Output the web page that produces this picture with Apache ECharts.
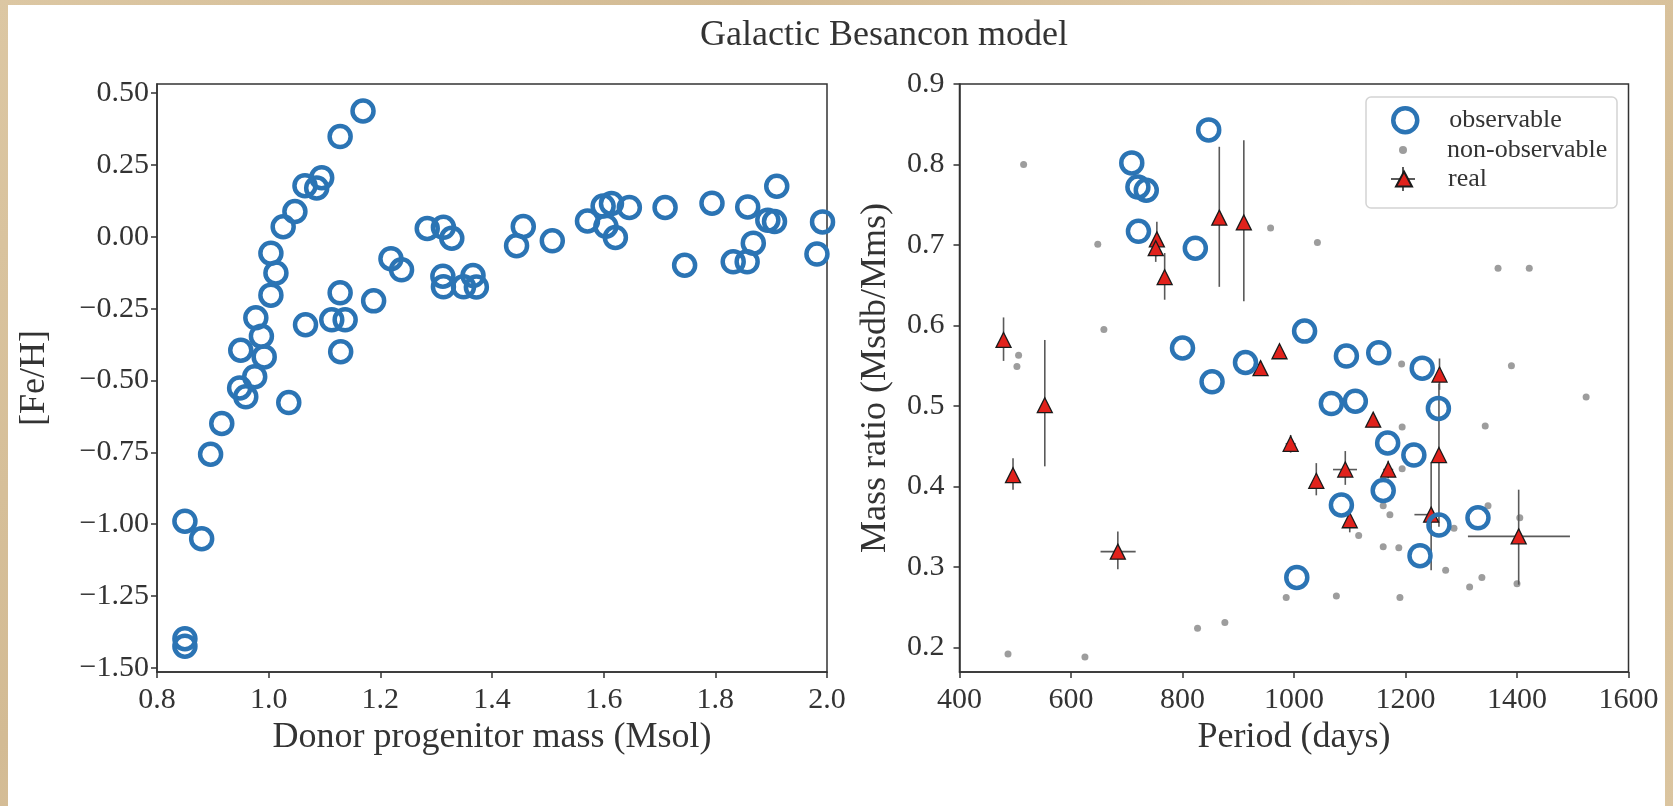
<!DOCTYPE html>
<html>
<head>
<meta charset="utf-8">
<script src="https://cdn.jsdelivr.net/npm/echarts@6/dist/echarts.min.js"></script>
<style>
  html, body { margin: 0; padding: 0; width: 1673px; height: 806px; overflow: hidden;
    background: linear-gradient(135deg, #dcc7a3 0%, #d3bb94 30%, #dfcaa8 55%, #d2b98f 80%, #dbc5a0 100%); }
  #panel { position: absolute; left: 8px; top: 5px; width: 1657px; height: 801px; background: #ffffff; }
  #chart { position: absolute; left: 0; top: 0; width: 1673px; height: 806px; }
</style>
</head>
<body>
<div id="panel"></div>
<div id="chart"></div>
<script>
// ---------------- data ----------------
// Left panel: donor progenitor mass (Msol) vs [Fe/H]
const leftMass = [0.850, 0.880, 0.850, 0.850, 0.896, 0.916, 0.948, 0.959, 0.975, 0.950,
  0.977, 0.987, 0.992, 1.004, 1.013, 1.004, 1.026, 1.047, 1.065, 1.086,
  1.095, 1.128, 1.169, 1.036, 1.066, 1.113, 1.137, 1.128, 1.129, 1.188,
  1.219, 1.238, 1.284, 1.313, 1.328, 1.312, 1.313, 1.349, 1.366, 1.372,
  1.444, 1.456, 1.508, 1.571, 1.599, 1.614, 1.604, 1.621, 1.646, 1.710,
  1.745, 1.794, 1.832, 1.857, 1.858, 1.868, 1.894, 1.906, 1.910, 1.982, 1.992];
const leftFeH = [-0.990, -1.051, -1.399, -1.425, -0.757, -0.650, -0.526, -0.557, -0.487, -0.395,
  -0.282, -0.346, -0.418, -0.203, -0.126, -0.057, 0.035, 0.088, 0.178, 0.170,
  0.206, 0.349, 0.438, -0.577, -0.306, -0.289, -0.289, -0.195, -0.400, -0.223,
  -0.076, -0.115, 0.029, 0.033, -0.005, -0.137, -0.174, -0.174, -0.135, -0.175,
  -0.031, 0.036, -0.014, 0.055, 0.107, 0.116, 0.037, -0.002, 0.102, 0.102,
  -0.099, 0.117, -0.087, -0.087, 0.104, -0.022, 0.058, 0.053, 0.176, -0.060, 0.052];

// Right panel: period (days) vs mass ratio
const obsPeriod = [709, 720, 735, 721, 847, 823, 800, 853, 913, 1019,
  1094, 1152, 1230, 1067, 1110, 1259, 1168, 1215, 1160, 1085, 1260, 1330, 1226, 1005];
const obsQ = [0.802, 0.772, 0.768, 0.717, 0.843, 0.696, 0.572, 0.530, 0.554, 0.593,
  0.562, 0.566, 0.547, 0.503, 0.506, 0.497, 0.454, 0.439, 0.395, 0.377, 0.352, 0.361, 0.314, 0.287];

const nonPeriod = [515, 648, 659, 506, 503, 487, 625, 827, 876, 958,
  1042, 986, 1076, 1116, 1160, 1172, 1160, 1188, 1193, 1194,
  1194, 1190, 1272, 1287, 1315, 1337, 1343, 1348, 1366, 1422,
  1390, 1400, 1405, 1524];
const nonQ = [0.800, 0.701, 0.595, 0.563, 0.549, 0.192, 0.188, 0.224, 0.231, 0.721,
  0.703, 0.262, 0.264, 0.339, 0.376, 0.365, 0.325, 0.324, 0.552, 0.474,
  0.422, 0.262, 0.296, 0.348, 0.275, 0.287, 0.475, 0.376, 0.671, 0.671,
  0.550, 0.279, 0.361, 0.511];

const realPeriod = [479, 496, 553, 684, 754, 752, 768, 866, 910, 940, 974,
  994, 1040, 1092, 1100, 1142, 1169, 1261, 1260, 1246, 1403];
const realQ = [0.582, 0.414, 0.501, 0.319, 0.707, 0.696, 0.660, 0.734, 0.728, 0.547, 0.568,
  0.453, 0.407, 0.421, 0.358, 0.483, 0.421, 0.539, 0.439, 0.365, 0.338];
const realQLo = [0.556, 0.396, 0.425, 0.297, 0.686, 0.679, 0.632, 0.648, 0.630, 0.540, 0.562,
  0.442, 0.389, 0.402, 0.343, 0.475, 0.410, 0.520, 0.350, 0.296, 0.278];
const realQHi = [0.610, 0.435, 0.582, 0.344, 0.729, 0.712, 0.690, 0.822, 0.830, 0.555, 0.574,
  0.464, 0.429, 0.444, 0.371, 0.491, 0.432, 0.559, 0.528, 0.430, 0.396];
const realPLo = [null, null, null, 653, null, null, null, null, null, null, null,
  985, null, 1070, null, null, 1160, null, null, 1216, 1312];
const realPHi = [null, null, null, 716, null, null, null, null, null, null, null,
  1003, null, 1113, null, null, 1178, null, null, 1262, 1495];

const leftXTicks = [0.8, 1.0, 1.2, 1.4, 1.6, 1.8, 2.0];
const leftYTicks = [-1.5, -1.25, -1.0, -0.75, -0.5, -0.25, 0.0, 0.25, 0.5];
const rightXTicks = [400, 600, 800, 1000, 1200, 1400, 1600];
const rightYTicks = [0.2, 0.3, 0.4, 0.5, 0.6, 0.7, 0.8, 0.9];

// ---------------- styles ----------------
const FONT = '"Liberation Serif", "Times New Roman", serif';
const TXT = '#333333';
const BLUE = '#2b74b4';
const tickFont = { fontFamily: FONT, fontSize: 30, color: TXT };
const nameFont = { fontFamily: FONT, fontSize: 36, color: TXT };
const legendText = { fontFamily: FONT, fontSize: 26, color: TXT, lineHeight: 26 };

function axisCommon() {
  return {
    axisLine: { show: true, onZero: false, lineStyle: { color: '#333', width: 1.5 } },
    splitLine: { show: false },
    nameLocation: 'middle',
    nameTextStyle: nameFont
  };
}
function ticks(values) {
  return { show: true, inside: false, length: 6, customValues: values, lineStyle: { color: '#333', width: 1.5 } };
}
const minus = s => s.replace('-', '\u2212');

const chart = echarts.init(document.getElementById('chart'), null, { renderer: 'canvas' });

const option = {
  animation: false,
  backgroundColor: 'transparent',
  graphic: [
    { type: 'text', x: 884, y: 36, z: 10,
      style: { text: 'Galactic Besancon model', font: '36px "Liberation Serif"', fill: TXT,
               align: 'center', verticalAlign: 'middle' } },
    { type: 'rect', z: 10, shape: { x: 1366, y: 97, width: 251, height: 111, r: 5 },
      style: { fill: 'none', stroke: '#d4d4d4', lineWidth: 1.5 } },
    // error-bar cross drawn behind the "real" legend triangle
    { type: 'line', z: 1, shape: { x1: 1403, y1: 167, x2: 1403, y2: 191 }, style: { stroke: '#333', lineWidth: 1.6 } },
    { type: 'line', z: 1, shape: { x1: 1391, y1: 179, x2: 1415, y2: 179 }, style: { stroke: '#333', lineWidth: 1.6 } }
  ],
  grid: [
    { left: 157, top: 84, width: 670, height: 588, show: true, borderColor: '#333', borderWidth: 1.5, backgroundColor: '#fff' },
    { left: 959.5, top: 84, width: 669, height: 588, show: true, borderColor: '#333', borderWidth: 1.5, backgroundColor: '#fff' }
  ],
  xAxis: [
    Object.assign(axisCommon(), {
      type: 'value', gridIndex: 0, min: 0.8, max: 2.0, interval: 0.2,
      name: 'Donor progenitor mass (Msol)', nameGap: 46,
      axisLabel: Object.assign({ margin: 13, customValues: leftXTicks, formatter: v => v.toFixed(1) }, tickFont),
      axisTick: ticks(leftXTicks)
    }),
    Object.assign(axisCommon(), {
      type: 'value', gridIndex: 1, min: 400, max: 1600, interval: 200,
      name: 'Period (days)', nameGap: 46,
      axisLabel: Object.assign({ margin: 13, customValues: rightXTicks, formatter: v => String(Math.round(v)) }, tickFont),
      axisTick: ticks(rightXTicks)
    })
  ],
  yAxis: [
    Object.assign(axisCommon(), {
      type: 'value', gridIndex: 0, min: -1.515, max: 0.532,
      name: '[Fe/H]', nameGap: 104,
      axisLabel: Object.assign({ margin: 8, customValues: leftYTicks, formatter: v => minus(v.toFixed(2)) }, tickFont),
      axisTick: ticks(leftYTicks)
    }),
    Object.assign(axisCommon(), {
      type: 'value', gridIndex: 1, min: 0.1695, max: 0.9,
      name: 'Mass ratio (Msdb/Mms)', nameGap: 66,
      axisLabel: Object.assign({ margin: 15, customValues: rightYTicks, formatter: v => v.toFixed(1) }, tickFont),
      axisTick: ticks(rightYTicks)
    })
  ],
  legend: [
    { left: 1391, top: 119 - 13, padding: 0, itemWidth: 24, itemHeight: 24, selectedMode: false, z: 5,
      data: [{ name: 'observable', itemStyle: { color: 'rgba(255,255,255,0)', borderColor: BLUE, borderWidth: 4.5 } }],
      textStyle: Object.assign({ padding: [0, 0, 0, 27] }, legendText) },
    { left: 1399, top: 150 - 13, padding: 0, itemWidth: 8, itemHeight: 8, selectedMode: false, z: 5,
      data: ['non-observable'],
      textStyle: Object.assign({ padding: [0, 0, 0, 35] }, legendText) },
    { left: 1395, top: 179 - 13, padding: 0, itemWidth: 16, itemHeight: 15, selectedMode: false, z: 5,
      data: ['real'],
      textStyle: Object.assign({ padding: [0, 0, 0, 31] }, legendText) }
  ],
  series: [
    {
      name: 'observable-left', type: 'scatter', xAxisIndex: 0, yAxisIndex: 0, z: 4,
      symbol: 'circle', symbolSize: 21,
      itemStyle: { color: 'rgba(255,255,255,0)', borderColor: BLUE, borderWidth: 4.5, opacity: 1 },
      data: leftMass.map((m, i) => [m, leftFeH[i]])
    },
    {
      name: 'non-observable', type: 'scatter', xAxisIndex: 1, yAxisIndex: 1, z: 1,
      symbol: 'circle', symbolSize: 7,
      itemStyle: { color: '#9d9d9d', opacity: 1 },
      data: nonPeriod.map((p, i) => [p, nonQ[i]])
    },
    {
      name: 'real-errors', type: 'custom', xAxisIndex: 1, yAxisIndex: 1, z: 2,
      data: realPeriod.map((p, i) => [p, realQ[i], realQLo[i], realQHi[i],
        realPLo[i] == null ? p : realPLo[i], realPHi[i] == null ? p : realPHi[i]]),
      encode: { x: 0, y: 1 },
      renderItem: function (params, api) {
        const p = api.value(0), q = api.value(1);
        const qlo = api.value(2), qhi = api.value(3), plo = api.value(4), phi = api.value(5);
        const children = [];
        const a = api.coord([p, qlo]), b = api.coord([p, qhi]);
        children.push({ type: 'line', shape: { x1: a[0], y1: a[1], x2: b[0], y2: b[1] },
          style: { stroke: '#5a5a5a', lineWidth: 1.6 } });
        if (phi > plo) {
          const c = api.coord([plo, q]), d = api.coord([phi, q]);
          children.push({ type: 'line', shape: { x1: c[0], y1: c[1], x2: d[0], y2: d[1] },
            style: { stroke: '#5a5a5a', lineWidth: 1.6 } });
        }
        return { type: 'group', children: children };
      }
    },
    {
      name: 'real', type: 'scatter', xAxisIndex: 1, yAxisIndex: 1, z: 3,
      symbol: 'triangle', symbolSize: 15,
      itemStyle: { color: '#e1221c', borderColor: '#1a1a1a', borderWidth: 1.3, opacity: 1 },
      data: realPeriod.map((p, i) => [p, realQ[i]])
    },
    {
      name: 'observable', type: 'scatter', xAxisIndex: 1, yAxisIndex: 1, z: 4,
      symbol: 'circle', symbolSize: 21,
      itemStyle: { color: 'rgba(255,255,255,0)', borderColor: BLUE, borderWidth: 4.5, opacity: 1 },
      data: obsPeriod.map((p, i) => [p, obsQ[i]])
    }
  ]
};
chart.setOption(option);
</script>
</body>
</html>
